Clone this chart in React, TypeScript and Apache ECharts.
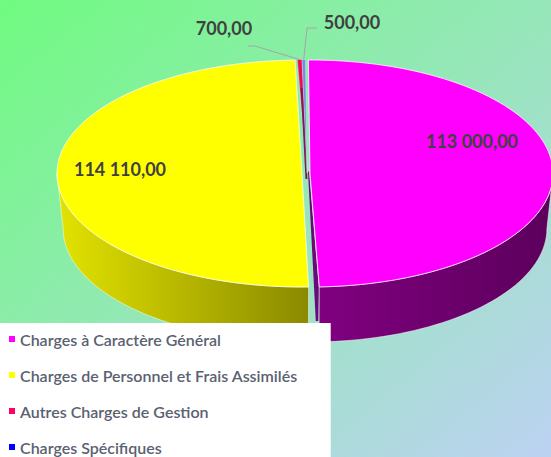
import React, { useEffect, useRef } from "react";
import * as echarts from "echarts";

const categories = [
  "Charges à Caractère Général",
  "Charges de Personnel et Frais Assimilés",
  "Autres Charges de Gestion",
  "Charges Spécifiques",
];
const values = [113000, 114110, 700, 500];
const valueLabels = ["113 000,00", "114 110,00", "700,00", "500,00"];
const colors = ["#ff00ff", "#ffff00", "#e8104f", "#7b86e6"];
const legendColors = ["#ff00ff", "#ffff00", "#ff0066", "#0000ff"];

const START_DEG = -0.37;
const RY = 113.5;
const DEPTH = 55;
const BOTTOM_SCALE = 0.975;
const FONT = "Lato, 'Open Sans', sans-serif";
const total = values.reduce((a, b) => a + b, 0);
const rad = (d: number) => (d * Math.PI) / 180;

function angles(i: number): [number, number] {
  let a = START_DEG;
  for (let k = 0; k < i; k++) a += (values[k] / total) * 360;
  const rot = geometry[i].rot || 0;
  return [a + rot, a + rot + (values[i] / total) * 360];
}

function arc(cx: number, cy: number, rx: number, ry: number, a0: number, a1: number) {
  const n = Math.max(2, Math.ceil(Math.abs(a1 - a0) / 2));
  const pts: number[][] = [];
  for (let j = 0; j <= n; j++) {
    const t = rad(a0 + ((a1 - a0) * j) / n);
    pts.push([cx + rx * Math.sin(t), cy - ry * Math.cos(t)]);
  }
  return pts;
}

type Geo = {
  cx: number; cy: number; rx: number; rot?: number;
  wall?: [number, number, string, string, number, number];
  label: [number, number];
  leader?: (tip: number[]) => number[][];
};

const geometry: Geo[] = [
  { cx: 310, cy: 173.5, rx: 243, wall: [90, 0, "#800080", "#5c005c", 320, 550], label: [472, 141] },
  { cx: 302, cy: 173.5, rx: 245, rot: 0.65, wall: [270, 0, "#e2e200", "#8a8a00", 60, 308], label: [120, 169] },
  { cx: 307, cy: 173, rx: 245, label: [224, 28], leader: (t) => [[248, 46], [255, 46], t] },
  { cx: 307, cy: 173, rx: 245, label: [352, 22], leader: (t) => [[317, 28], [307, 28], t] },
];

function renderSlice(i: number) {
  return () => {
    const g = geometry[i];
    const [a0, a1] = angles(i);
    const children: any[] = [];
    const center = [g.cx, g.cy];
    if (g.wall) {
      const [edge, , c0, c1, x0, x1] = g.wall;
      const from = i === 0 ? edge : a0;
      const to = i === 0 ? a1 : edge;
      const top = arc(g.cx, g.cy, g.rx, RY, from, to);
      const bottom = arc(g.cx, g.cy + DEPTH, g.rx * BOTTOM_SCALE, RY, from, to).reverse();
      children.push({
        type: "polygon",
        shape: { points: top.concat(bottom) },
        style: {
          fill: new echarts.graphic.LinearGradient(x0, 0, x1, 0, [
            { offset: 0, color: c0 },
            { offset: 1, color: c1 },
          ], true),
          stroke: "rgba(255,255,255,0.6)",
          lineWidth: 0.8,
        },
      });
    }
    if (i === 0) {
      // inner cut face of the large slice, seen edge-on
      const p = arc(g.cx, g.cy, g.rx, RY, a1, a1)[0];
      children.push({
        type: "polygon",
        shape: {
          points: [
            [center[0] - 1, center[1] - 2],
            [p[0] - 0.5, p[1]],
            [p[0] - 1, p[1] + 34],
            [p[0] - 3.5, p[1] + 34],
            [center[0] - 2, center[1] - 2],
          ],
        },
        style: { fill: "#6a0a78" },
      });
    }
    const rim = arc(g.cx, g.cy, g.rx, RY, a0, a1);
    children.push({
      type: "polygon",
      shape: { points: [center].concat(rim) },
      style: { fill: colors[i], stroke: "rgba(255,255,255,0.75)", lineWidth: i > 1 ? 0.4 : 1 },
    });
    if (i === 2) {
      // shaded cut face along the thin slice
      const p = rim[0];
      const s = 0.25;
      const q = [p[0] + (center[0] - p[0]) * s, p[1] + (center[1] - p[1]) * s];
      children.push({
        type: "polygon",
        shape: {
          points: [
            [q[0] + 1, q[1]],
            [q[0] + 3, q[1]],
            [center[0] + 0.5, center[1] + 6],
            [center[0] - 1.5, center[1] + 6],
          ],
        },
        style: { fill: "#7a1a55" },
      });
    }
    if (g.leader) {
      const mid = arc(g.cx, g.cy, g.rx, RY, (a0 + a1) / 2, (a0 + a1) / 2)[0];
      children.push({
        type: "polyline",
        shape: { points: g.leader(mid) },
        style: { stroke: "#a6a6a6", lineWidth: 1, fill: "none" },
      });
    }
    children.push({
      type: "text",
      style: {
        text: valueLabels[i],
        x: g.label[0],
        y: g.label[1],
        align: "center",
        verticalAlign: "middle",
        fontFamily: FONT,
        fontWeight: "bold",
        fontSize: 18,
        fill: "#404040",
      },
    });
    return { type: "group", children };
  };
}

export default function App() {
  const ref = useRef<HTMLDivElement>(null);
  useEffect(() => {
    const chart = echarts.init(ref.current!, undefined, { renderer: "svg" });
    chart.setOption({
      animation: false,
      backgroundColor: new echarts.graphic.LinearGradient(0, 0, 1, 1, [
        { offset: 0, color: "#70fb80" },
        { offset: 1, color: "#bcd2f2" },
      ]),
      legend: {
        show: true,
        orient: "vertical",
        left: 0,
        top: 323,
        height: 200,
        padding: [8, 33, 20, 9],
        backgroundColor: "#ffffff",
        itemWidth: 6,
        itemHeight: 6,
        itemGap: 20,
        icon: "rect",
        selectedMode: false,
        data: categories,
        textStyle: { fontFamily: FONT, fontSize: 16, fontWeight: 600, color: "#5a6170", lineHeight: 16 },
      },
      series: categories.map((name, i) => ({
        type: "custom",
        name,
        coordinateSystem: "none",
        silent: true,
        itemStyle: { color: legendColors[i] },
        data: [{ name, value: values[i] }],
        renderItem: renderSlice(i),
      })),
    });
    return () => chart.dispose();
  }, []);
  return <div ref={ref} style={{ position: "fixed", left: 0, top: 0, width: 551, height: 457 }} />;
}
